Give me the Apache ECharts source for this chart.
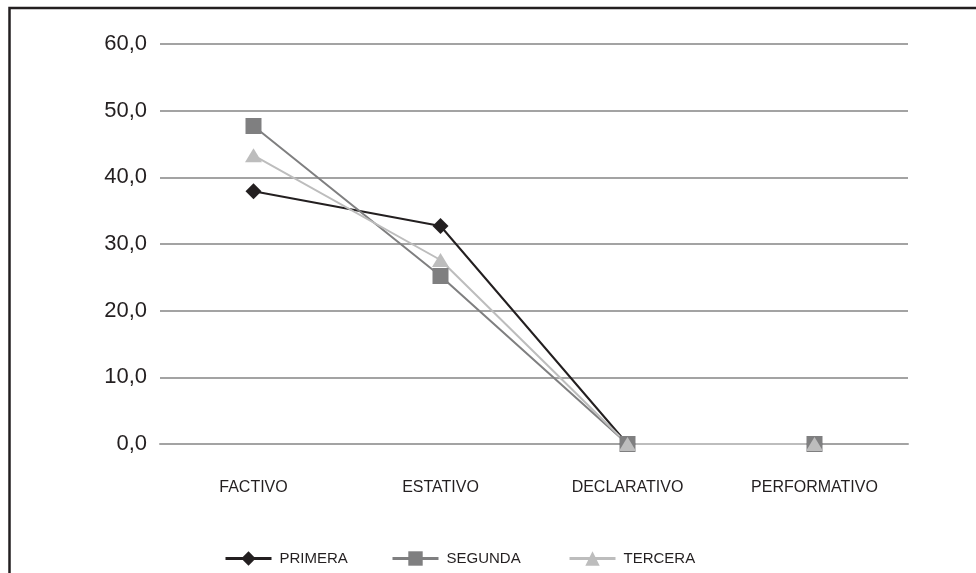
<!DOCTYPE html>
<html>
<head>
<meta charset="utf-8">
<script src="https://cdn.jsdelivr.net/npm/echarts@6/dist/echarts.min.js"></script>
<style>
  html, body { margin: 0; padding: 0; background: #fff; }
  #chart { width: 976px; height: 573px; }
</style>
</head>
<body>
<div id="chart"></div>
<script>
// Categories of verb types and share (%) for each group
const categories = ['FACTIVO', 'ESTATIVO', 'DECLARATIVO', 'PERFORMATIVO'];
const primera = [37.9, 32.7, 0, 0];
const segunda = [47.7, 25.2, 0, 0];
const tercera = [43.3, 27.6, 0, 0];

const FONT = '"Liberation Sans", Arial, sans-serif';

const chart = echarts.init(document.getElementById('chart'));

function lineSeries(name, data, color, symbol, size) {
  return {
    name: name,
    type: 'line',
    data: data,
    symbol: symbol,
    symbolSize: size,
    showAllSymbol: true,
    lineStyle: { color: color, width: 2 },
    itemStyle: { color: color },
    emphasis: { disabled: true },
    animation: false
  };
}

function legendAt(name, left, top) {
  return {
    data: [name],
    left: left,
    top: top,
    padding: 0,
    itemWidth: 46,
    itemHeight: 18,
    itemGap: 0,
    lineStyle: { width: 3 },
    textStyle: { fontFamily: FONT, fontSize: 15, color: '#231f20', padding: [0, 0, 0, 3] }
  };
}

chart.setOption({
  backgroundColor: '#ffffff',
  animation: false,
  grid: { left: 160, right: 68, top: 44, bottom: 129 },
  legend: [
    legendAt('PRIMERA', 224, 551),
    legendAt('SEGUNDA', 391, 551),
    legendAt('TERCERA', 568, 551)
  ],
  xAxis: {
    type: 'category',
    data: categories,
    boundaryGap: true,
    axisLine: { show: true, lineStyle: { color: '#a3a3a3', width: 2 } },
    axisTick: { show: false },
    axisLabel: { fontFamily: FONT, fontSize: 16, color: '#231f20', margin: 36 }
  },
  yAxis: {
    type: 'value',
    min: 0,
    max: 60,
    interval: 10,
    axisLine: { show: false },
    axisTick: { show: false },
    axisLabel: {
      fontFamily: FONT,
      fontSize: 22,
      color: '#231f20',
      margin: 13,
      formatter: v => v.toFixed(1).replace('.', ',')
    },
    splitLine: { lineStyle: { color: '#a3a3a3', width: 2 } }
  },
  series: [
    lineSeries('PRIMERA', primera, '#231f20', 'diamond', 16),
    lineSeries('SEGUNDA', segunda, '#7f7f80', 'rect', 16),
    lineSeries('TERCERA', tercera, '#bdbdbd', 'triangle', [17, 14])
  ],
  graphic: [{
    type: 'rect',
    shape: { x: 9.5, y: 8, width: 1200, height: 1200 },
    style: { fill: 'none', stroke: '#231f20', lineWidth: 2.5 },
    silent: true
  }]
});
</script>
</body>
</html>
